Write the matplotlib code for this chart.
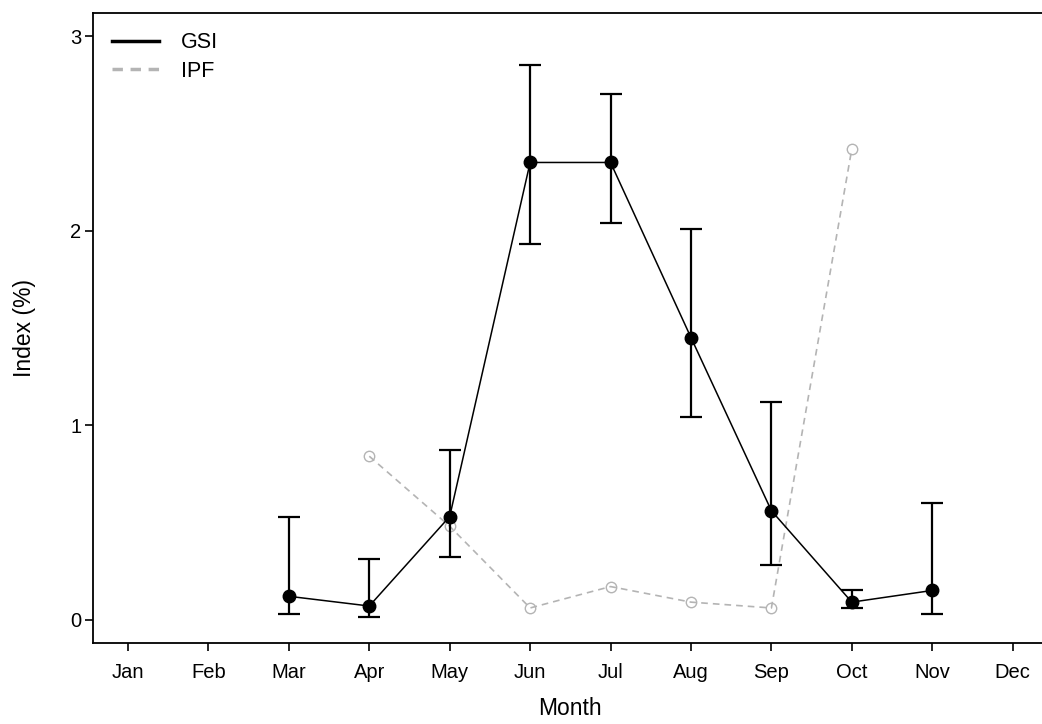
import matplotlib
matplotlib.use("Agg")
import matplotlib.pyplot as plt
from matplotlib.lines import Line2D

plt.rcParams["font.family"] = ["Liberation Sans", "DejaVu Sans"]

months = ["Jan", "Feb", "Mar", "Apr", "May", "Jun",
          "Jul", "Aug", "Sep", "Oct", "Nov", "Dec"]

# gonadosomatic index, monthly mean with lower/upper bounds
gsi_month = [3, 4, 5, 6, 7, 8, 9, 10, 11]
gsi_mean = [0.12, 0.07, 0.53, 2.35, 2.35, 1.45, 0.56, 0.09, 0.15]
gsi_low = [0.03, 0.015, 0.32, 1.93, 2.04, 1.04, 0.28, 0.06, 0.03]
gsi_high = [0.53, 0.31, 0.87, 2.85, 2.70, 2.01, 1.12, 0.15, 0.60]

# IPF
ipf_month = [4, 5, 6, 7, 8, 9, 10]
ipf_val = [0.84, 0.48, 0.06, 0.17, 0.09, 0.06, 2.42]

fig = plt.figure(figsize=(10.42, 7.24), dpi=100)
ax = fig.add_axes([0.0889, 0.1119, 0.9169, 0.8706])

ax.plot(ipf_month, ipf_val, color="#b4b4b4", lw=1.2, ls=(0, (4, 3)),
        marker="o", ms=7.5, mfc="none", mec="#b4b4b4", mew=1.0, zorder=2)

ax.plot(gsi_month, gsi_mean, color="black", lw=1.1, zorder=3)
yerr = [[m - lo for m, lo in zip(gsi_mean, gsi_low)],
        [hi - m for m, hi in zip(gsi_mean, gsi_high)]]
ax.errorbar(gsi_month, gsi_mean, yerr=yerr, fmt="o", color="black",
            ms=9, elinewidth=1.6, capsize=8, capthick=1.6, zorder=4)

ax.set_xlim(0.56, 12.44)
ax.set_ylim(-0.12, 3.12)
ax.set_xticks(range(1, 13))
ax.set_xticklabels(months)
ax.set_yticks([0, 1, 2, 3])
ax.tick_params(direction="out", length=6, width=1.2, labelsize=14.5)
ax.tick_params(axis="x", pad=8.5)
ax.tick_params(axis="y", pad=2)
for s in ax.spines.values():
    s.set_linewidth(1.3)

ax.set_xlabel("Month", fontsize=16.5, labelpad=11)
ax.set_ylabel("Index (%)", fontsize=16.5, labelpad=25)

handles = [Line2D([], [], color="black", lw=2.5),
           Line2D([], [], color="#b4b4b4", lw=2.5, ls=(0, (3, 2.2)))]
ax.legend(handles, ["GSI", "IPF"], loc="upper left", frameon=False,
          fontsize=15.5, handlelength=2.2, handletextpad=1.0,
          labelspacing=0.35, borderaxespad=0.5, bbox_to_anchor=(0.0, 1.0))

fig.savefig("out.png", dpi=100)
